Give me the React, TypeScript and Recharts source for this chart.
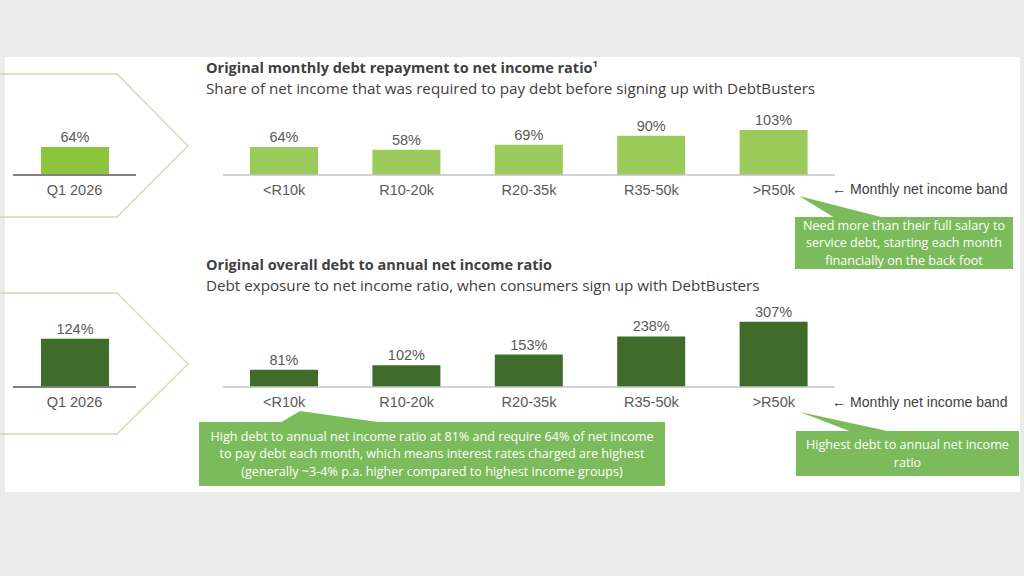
import { BarChart, Bar, XAxis, YAxis, LabelList } from "recharts";

const bands = ["<R10k", "R10-20k", "R20-35k", "R35-50k", ">R50k"];
const repaymentRatio = [64, 58, 69, 90, 103];
const debtRatio = [81, 102, 153, 238, 307];

const periods = ["Q1 2026"];
const periodRepayment = [64];
const periodDebt = [124];

const LIGHT = "#9acb5b";
const LIGHT_SOLO = "#8cc43e";
const DARK = "#3f6b2b";
const CALLOUT = "#7cbb5c";
const TEXT = "#404040";
const LABEL = "#595959";

const sans = "'Open Sans', 'Noto Sans', sans-serif";
const arial = "'Liberation Sans', Arial, sans-serif";

type ChartProps = {
  names: string[];
  values: number[];
  color: string;
  max: number;
  left: number;
  top: number;
  width: number;
  plotHeight: number;
  axisColor: string;
  axisWidth: number;
};

// room above the plot so the value labels are not clipped
const PAD = 20;

function BandChart(props: ChartProps) {
  const rows = props.names.map((name, i) => ({ name, value: props.values[i] }));
  return (
    <div style={{ position: "absolute", left: props.left, top: props.top - PAD }}>
      <BarChart
        width={props.width}
        height={props.plotHeight + 30 + PAD}
        data={rows}
        margin={{ top: PAD, right: 0, bottom: 0, left: 0 }}
      >
        <XAxis
          dataKey="name"
          height={30}
          tickLine={false}
          tickSize={8}
          axisLine={{ stroke: props.axisColor, strokeWidth: props.axisWidth }}
          tick={{ fill: LABEL, fontSize: 14.5, fontFamily: arial }}
          interval={0}
        />
        <YAxis hide domain={[0, props.max]} />
        <Bar dataKey="value" fill={props.color} barSize={68} isAnimationActive={false}>
          <LabelList
            dataKey="value"
            position="top"
            offset={5}
            formatter={(v: any) => `${v}%`}
            style={{ fill: LABEL, fontSize: 14.5, fontFamily: arial }}
          />
        </Bar>
      </BarChart>
    </div>
  );
}

function Text(p: { x: number; y: number; children: any; bold?: boolean; size?: number; color?: string; font?: string }) {
  return (
    <div
      style={{
        position: "absolute",
        left: p.x,
        top: p.y,
        whiteSpace: "nowrap",
        fontFamily: p.font || sans,
        fontSize: p.size || 15.2,
        fontWeight: p.bold ? 700 : 400,
        color: p.color || TEXT,
        lineHeight: "18px",
      }}
    >
      {p.children}
    </div>
  );
}

function Callout(p: { x: number; y: number; w: number; h: number; lines: string[] }) {
  return (
    <div
      style={{
        position: "absolute",
        left: p.x,
        top: p.y,
        width: p.w,
        height: p.h,
        display: "flex",
        flexDirection: "column",
        justifyContent: "center",
        alignItems: "center",
        color: "#ffffff",
        fontFamily: sans,
        fontSize: 12.6,
        lineHeight: "17.5px",
        textAlign: "center",
      }}
    >
      {p.lines.map((l) => (
        <div key={l} style={{ whiteSpace: "nowrap" }}>{l}</div>
      ))}
    </div>
  );
}

export default function App() {
  return (
    <div
      style={{
        position: "fixed",
        left: 0,
        top: 0,
        width: 1024,
        height: 576,
        background: "#ebebeb",
        overflow: "hidden",
      }}
    >
      <div style={{ position: "absolute", left: 5, top: 57, width: 1015, height: 435, background: "#ffffff" }} />

      <svg width={1024} height={576} style={{ position: "absolute", left: 0, top: 0 }}>
        <polyline points="-2,74 117,74 188,146 117,217 -2,217" fill="none" stroke="#d6d6b4" strokeWidth={1.3} />
        <polyline points="-2,293 117,293 188,364 117,434 -2,434" fill="none" stroke="#d6d6b4" strokeWidth={1.3} />
        <polygon points="799,196 835,218 885,218" fill={CALLOUT} />
        <rect x={795} y={217} width={218} height={52} fill={CALLOUT} />
        <polygon points="300,411 280,423 385,423" fill={CALLOUT} />
        <rect x={199} y={422} width={466} height={64} fill={CALLOUT} />
        <polygon points="800,412 852,432 892,432" fill={CALLOUT} />
        <rect x={796} y={431} width={223} height={45} fill={CALLOUT} />
      </svg>

      <Text x={206} y={59} bold size={14.5}>
        Original monthly debt repayment to net income ratio
        <sup style={{ fontSize: 9.5, lineHeight: 0, verticalAlign: "6px" }}>1</sup>
      </Text>
      <Text x={206} y={79}>Share of net income that was required to pay debt before signing up with DebtBusters</Text>

      <Text x={206} y={256} bold size={14.5}>Original overall debt to annual net income ratio</Text>
      <Text x={206} y={276}>Debt exposure to net income ratio, when consumers sign up with DebtBusters</Text>

      <BandChart
        names={periods}
        values={periodRepayment}
        color={LIGHT_SOLO}
        max={160}
        left={13}
        top={105}
        width={123}
        plotHeight={70}
        axisColor="#808080"
        axisWidth={2}
      />
      <BandChart
        names={bands}
        values={repaymentRatio}
        color={LIGHT}
        max={160}
        left={223}
        top={105}
        width={612}
        plotHeight={70}
        axisColor="#c4c4c4"
        axisWidth={1.5}
      />
      <BandChart
        names={periods}
        values={periodDebt}
        color={DARK}
        max={206}
        left={13}
        top={307}
        width={123}
        plotHeight={80}
        axisColor="#808080"
        axisWidth={2}
      />
      <BandChart
        names={bands}
        values={debtRatio}
        color={DARK}
        max={377}
        left={223}
        top={307}
        width={612}
        plotHeight={80}
        axisColor="#c4c4c4"
        axisWidth={1.5}
      />

      <Text x={832} y={180} font={arial} size={14.1}>
        ← Monthly net income band
      </Text>
      <Text x={832} y={393} font={arial} size={14.1}>
        ← Monthly net income band
      </Text>

      <Callout
        x={795}
        y={217}
        w={218}
        h={52}
        lines={["Need more than their full salary to", "service debt, starting each month", "financially on the back foot"]}
      />
      <Callout
        x={199}
        y={422}
        w={466}
        h={64}
        lines={[
          "High debt to annual net income ratio at 81% and require 64% of net income",
          "to pay debt each month, which means interest rates charged are highest",
          "(generally ~3-4% p.a. higher compared to highest income groups)",
        ]}
      />
      <Callout x={796} y={431} w={223} h={45} lines={["Highest debt to annual net income", "ratio"]} />
    </div>
  );
}
